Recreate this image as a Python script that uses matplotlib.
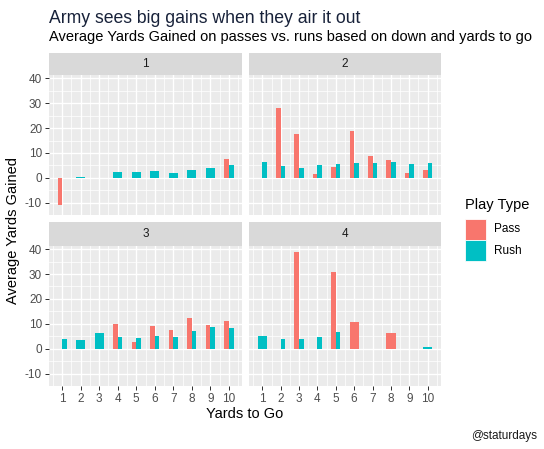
import numpy as np
import matplotlib
matplotlib.use("Agg")
import matplotlib.pyplot as plt
from matplotlib.patches import Rectangle

plt.rcParams['font.family'] = ['Liberation Sans', 'DejaVu Sans']
plt.rcParams['axes.unicode_minus'] = False

# average yards gained, by down, yards to go 1..10 (None = no plays)
yards_to_go = [1, 2, 3, 4, 5, 6, 7, 8, 9, 10]
downs = [1, 2, 3, 4]
pass_1 = [-10.9, None, None, None, None, None, None, None, None, 7.5]
rush_1 = [0.0, 0.3, None, 2.4, 2.4, 2.8, 2.0, 3.2, 3.9, 5.1]
pass_2 = [0.0, 28.0, 17.7, 1.6, 4.3, 18.9, 8.7, 7.1, 2.0, 3.1]
rush_2 = [6.3, 4.7, 3.9, 5.1, 5.5, 5.9, 5.9, 6.3, 5.5, 5.9]
pass_3 = [0.0, None, None, 9.8, 2.8, 9.0, 7.5, 12.2, 9.4, 11.0]
rush_3 = [3.9, 3.5, 6.3, 4.7, 4.3, 5.1, 4.7, 7.1, 8.7, 8.3]
pass_4 = [None, 0.0, 38.9, 0.0, 30.7, 10.6, None, 6.3, None, None]
rush_4 = [5.1, 3.9, 3.9, 4.7, 6.7, None, None, None, None, 0.8]
pass_by_down = [pass_1, pass_2, pass_3, pass_4]
rush_by_down = [rush_1, rush_2, rush_3, rush_4]

PASS_COL = '#F8766D'
RUSH_COL = '#00BFC4'
W, H = 544, 449
s = 4 / 3  # text scale (ggplot pt -> px)

fig = plt.figure(figsize=(W / 72, H / 72), dpi=72)
fig.patch.set_facecolor('white')


def rect(x0, y0, x1, y1):
    # pixel box (top-left origin) -> figure fraction
    return [x0 / W, 1 - y1 / H, (x1 - x0) / W, (y1 - y0) / H]


cols = [(48.7, 242.3), (249.0, 441.0)]
rows = [(53.3, 75.0, 215.0), (222.3, 245.7, 386.0)]

# shared y limits like ggplot's expand
vals = [v for lst in pass_by_down + rush_by_down for v in lst if v is not None]
ymin, ymax = min(vals), max(vals)
pad = (ymax - ymin) * 0.05
xlo, xhi = 1 - 0.25, 10 + 0.25
xpad = (xhi - xlo) * 0.05

for k, down in enumerate(downs):
    r, c = divmod(k, 2)
    x0, x1 = cols[c]
    st, pt, pb = rows[r]

    # strip
    sax = fig.add_axes(rect(x0, st, x1, pt))
    sax.set_facecolor('#d9d9d9')
    sax.set_xticks([])
    sax.set_yticks([])
    for sp in sax.spines.values():
        sp.set_visible(False)
    sax.text(0.5, 0.5, str(down), ha='center', va='center',
             fontsize=8.8 * s, color='#1a1a1a', transform=sax.transAxes)

    ax = fig.add_axes(rect(x0, pt, x1, pb))
    ax.set_facecolor('#ebebeb')
    for sp in ax.spines.values():
        sp.set_visible(False)

    p_list, r_list = pass_by_down[k], rush_by_down[k]
    for x, p, q in zip(yards_to_go, p_list, r_list):
        if p is not None and q is not None:
            ax.bar(x - 0.125, p, width=0.25, color=PASS_COL, zorder=3)
            ax.bar(x + 0.125, q, width=0.25, color=RUSH_COL, zorder=3)
        elif p is not None:
            ax.bar(x, p, width=0.5, color=PASS_COL, zorder=3)
        elif q is not None:
            ax.bar(x, q, width=0.5, color=RUSH_COL, zorder=3)

    ax.set_xlim(xlo - xpad, xhi + xpad)
    ax.set_ylim(ymin - pad, ymax + pad)
    ax.set_xticks(yards_to_go)
    ax.set_xticks(np.arange(0.5, 11, 1.0), minor=True)
    ax.set_yticks([-10, 0, 10, 20, 30, 40])
    ax.set_yticks([-15, -5, 5, 15, 25, 35], minor=True)
    ax.grid(which='major', color='white', linewidth=1.4, zorder=1)
    ax.grid(which='minor', color='white', linewidth=0.7, zorder=1)
    ax.set_axisbelow(True)
    ax.tick_params(which='minor', length=0)
    ax.tick_params(which='major', length=2.75 * s, width=1.0, color='#333333',
                   labelsize=8.8 * s, labelcolor='#4d4d4d', pad=2.2 * s)
    if c == 1:
        ax.tick_params(axis='y', which='major', left=False, labelleft=False)
    if r == 0:
        ax.tick_params(axis='x', which='major', bottom=False, labelbottom=False)

# titles
fig.text(48.7 / W, 1 - 23 / H, 'Army sees big gains when they air it out',
         fontsize=13.2 * s, color='#18223a', ha='left', va='baseline')
fig.text(48.7 / W, 1 - 41.5 / H,
         'Average Yards Gained on passes vs. runs based on down and yards to go',
         fontsize=11 * s, color='black', ha='left', va='baseline')
fig.text(245 / W, 1 - 413.5 / H, 'Yards to Go', fontsize=11 * s,
         ha='center', va='center')
fig.text(13 / W, 1 - 231 / H, 'Average Yards Gained', fontsize=11 * s,
         ha='center', va='center', rotation=90)
fig.text(537.5 / W, 1 - 436 / H, '@staturdays', fontsize=8.8 * s,
         ha='right', va='center', color='#1a1a1a')

# legend
fig.text(465 / W, 1 - 205 / H, 'Play Type', fontsize=11 * s,
         ha='left', va='center')
for i, (lab, col) in enumerate([('Pass', PASS_COL), ('Rush', RUSH_COL)]):
    y0 = 219 + i * 21.5
    fig.patches.append(Rectangle((465 / W, 1 - (y0 + 20.7) / H), 20.7 / W,
                                 20.7 / H, transform=fig.transFigure,
                                 facecolor=col, edgecolor='white', lw=0.8))
    fig.text(494 / W, 1 - (y0 + 10.4) / H, lab, fontsize=8.8 * s,
             ha='left', va='center')

fig.savefig('out.png', dpi=72)
